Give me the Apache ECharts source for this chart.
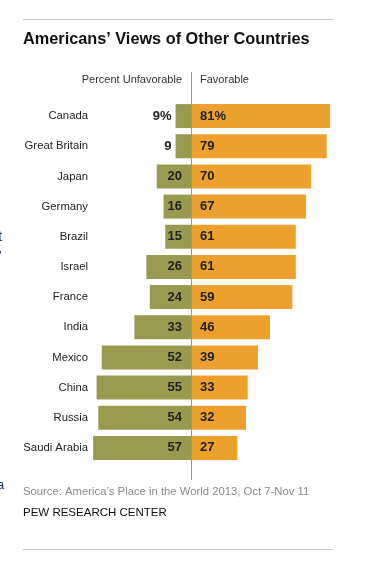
<!DOCTYPE html>
<html><head><meta charset="utf-8">
<script src="https://cdn.jsdelivr.net/npm/echarts@6/dist/echarts.min.js"></script>
<style>html,body{margin:0;padding:0;background:#fff}#c{width:369px;height:570px}</style>
</head><body><div id="c"></div>
<script>
const categories = ['Canada','Great Britain','Japan','Germany','Brazil','Israel','France','India','Mexico','China','Russia','Saudi Arabia'];
const unfavorable = [9,9,20,16,15,26,24,33,52,55,54,57];
const favorable = [81,79,70,67,61,61,59,46,39,33,32,27];

const chart = echarts.init(document.getElementById('c'));
const numFont = {fontFamily:'Liberation Sans', fontWeight:'bold', fontSize:13, color:'#222'};
chart.setOption({
  animation:false,
  grid:{left:88, right:32, top:101, bottom:107, containLabel:false},
  xAxis:{type:'value', min:-60, max:85, show:false},
  yAxis:{type:'category', data:categories, inverse:true,
    axisLine:{show:false}, axisTick:{show:false},
    axisLabel:{fontFamily:'Liberation Sans', fontSize:11.3, color:'#222', margin:0}},
  series:[
    {type:'bar', stack:'a', barWidth:24, itemStyle:{color:'#999a50'},
     data: unfavorable.map((v,i)=>({value:-v, label: v<12 ? {position:'left', distance:4} : {}})),
     label:Object.assign({show:true, position:'insideRight', distance:9,
       formatter:p=>Math.abs(p.value)+(p.dataIndex===0?'%':'')}, numFont)},
    {type:'bar', stack:'a', barWidth:24, itemStyle:{color:'#eca12e'},
     data: favorable,
     label:Object.assign({show:true, position:'insideLeft', distance:9,
       formatter:p=>p.value+(p.dataIndex===0?'%':'')}, numFont)}
  ]
});
const cx = chart.convertToPixel({xAxisIndex:0}, 0);
chart.setOption({graphic:[
  {type:'line', shape:{x1:23,y1:19.5,x2:333,y2:19.5}, style:{stroke:'#c8c8c8', lineWidth:1}},
  {type:'line', shape:{x1:23,y1:549.5,x2:333,y2:549.5}, style:{stroke:'#c8c8c8', lineWidth:1}},
  {type:'text', left:23, top:32, style:{text:'Americans\u2019 Views of Other Countries', font:'bold 16.3px "Liberation Sans"', fill:'#111'}},
  {type:'text', x:cx-9, y:80, style:{text:'Percent Unfavorable', font:'11px "Liberation Sans"', fill:'#333', align:'right', verticalAlign:'middle'}},
  {type:'text', x:cx+9, y:80, style:{text:'Favorable', font:'11px "Liberation Sans"', fill:'#333', align:'left', verticalAlign:'middle'}},
  {type:'line', z:10, shape:{x1:Math.round(cx)+0.5,y1:72,x2:Math.round(cx)+0.5,y2:480}, style:{stroke:'#999', lineWidth:1}},
  {type:'text', left:23, top:486, style:{text:'Source: America\u2019s Place in the World 2013, Oct 7-Nov 11', font:'11.3px "Liberation Sans"', fill:'#8a8a8a'}},
  {type:'text', left:23, top:507, style:{text:'PEW RESEARCH CENTER', font:'11.5px "Liberation Sans"', fill:'#111'}},
  {type:'text', x:-2, y:237, style:{text:'t', font:'15px "Liberation Sans"', fill:'#1f3a68', verticalAlign:'middle'}},
  {type:'text', x:-1, y:256, style:{text:'\u2019', font:'13px "Liberation Sans"', fill:'#1f3a68', verticalAlign:'middle'}},
  {type:'text', x:-3, y:485, style:{text:'a', font:'13px "Liberation Sans"', fill:'#1f3a68', verticalAlign:'middle'}}
]});
</script></body></html>
